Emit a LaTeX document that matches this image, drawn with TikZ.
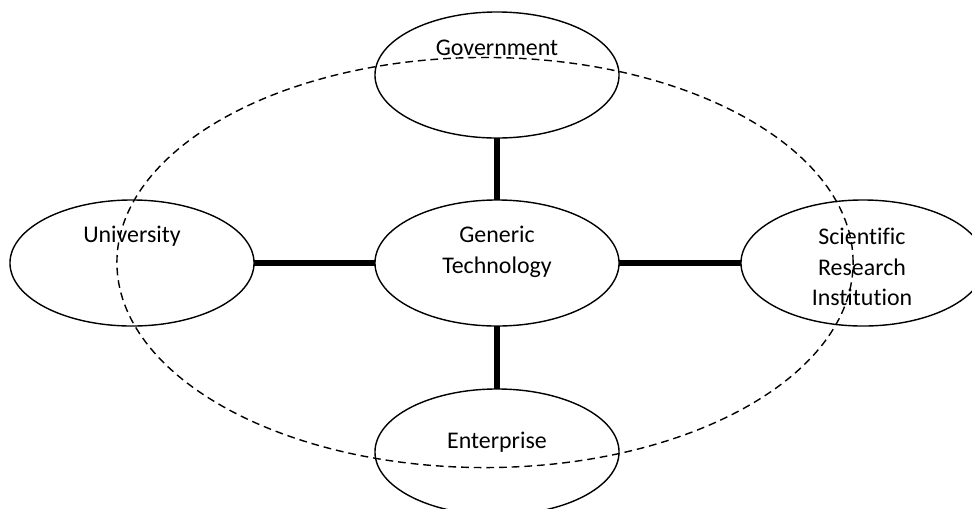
\documentclass[tikz,border=0pt]{standalone}
\usepackage{fontspec}
\setmainfont{Carlito}[Ligatures=NoCommon]
\usetikzlibrary{shapes.geometric}

\begin{document}
\begin{tikzpicture}[x=0.025cm, y=-0.025cm, thick]
		
		% Styles
		\tikzstyle{oval} = [draw, ellipse, line width=1pt, inner sep=0pt, outer sep=0pt, minimum width=6.1cm, minimum height=3.15cm];
		\tikzstyle{txt} = [align=center, inner sep=0pt, font=\fontsize{17}{21.7}\selectfont];
		\tikzstyle{link} = [line width=3.6pt];
		
		\useasboundingbox (0,0) rectangle (972,508);
		
		% Nodes
		\node[oval] (gt) at (497,263) {};
		\node[oval] (gov) at (497,75) {};
		\node[oval] (univ) at (132,263) {};
		\node[oval] (sri) at (863,263) {};
		\node[oval] (ent) at (497,452) {};
		
		\node[draw, ellipse, dashed, line width=1pt, dash pattern=on 5.5pt off 3.5pt, minimum width=18.4cm, minimum height=10.25cm] (ring) at (485,262.5) {};
		
		% Texts
		\node[txt] (gtlabel) at (497,252) {Generic\\Technology};
		\node[txt] (govlabel) at (497,48) {Government};
		\node[txt] (univlabel) at (132,236) {University};
		\node[txt] (srilabel) at (862,267) {Scientific\\Research\\Institution};
		\node[txt] (entlabel) at (497,442) {Enterprise};
		
		% Lines
		\draw[link] (gov) -- (gt);
		\draw[link] (gt) -- (ent);
		\draw[link] (univ) -- (gt);
		\draw[link] (gt) -- (sri);
		
	\end{tikzpicture}
\end{document}
